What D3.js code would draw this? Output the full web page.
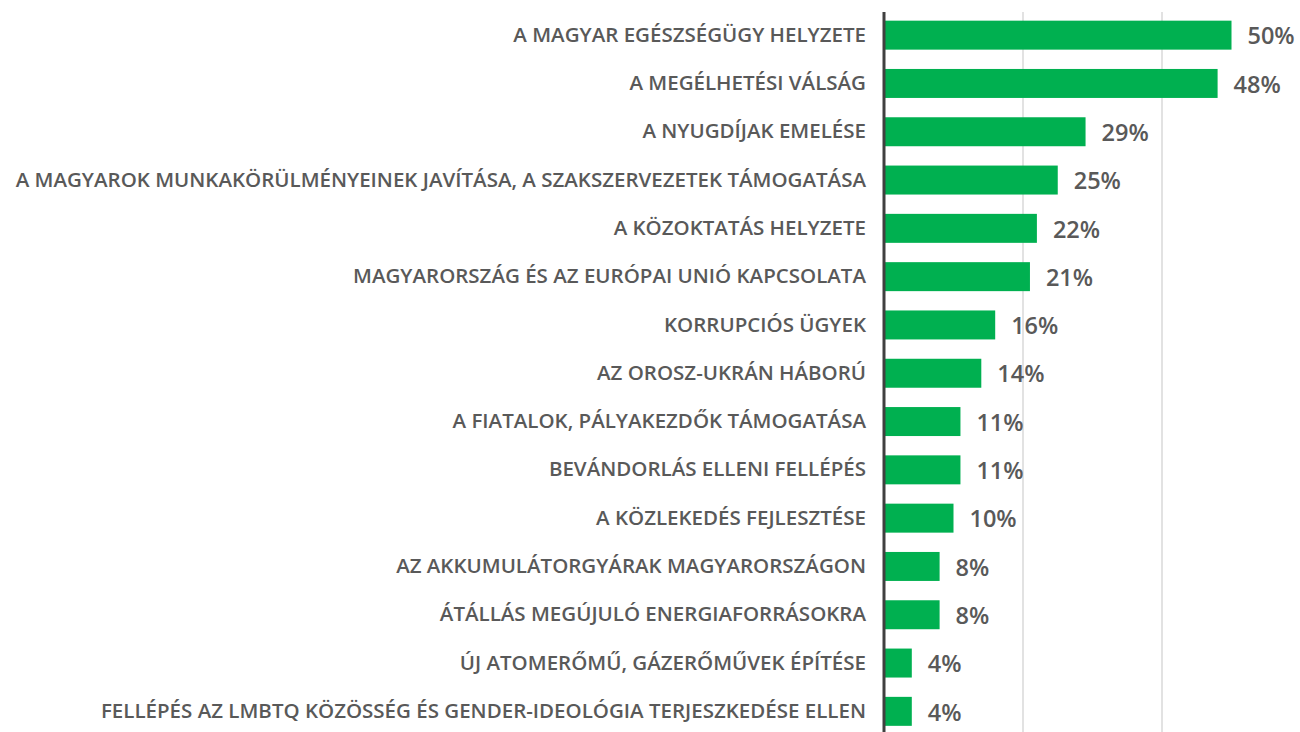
<!DOCTYPE html>
<html>
<head>
<meta charset="utf-8">
<script src="https://cdn.jsdelivr.net/npm/d3@7"></script>
<style>
  body { margin: 0; background: #fff; }
  text { font-family: "Open Sans", sans-serif; }
</style>
</head>
<body>
<svg id="chart"></svg>
<script>
// Topics and share of respondents (%)
const topics = [
  "A MAGYAR EGÉSZSÉGÜGY HELYZETE",
  "A MEGÉLHETÉSI VÁLSÁG",
  "A NYUGDÍJAK EMELÉSE",
  "A MAGYAROK MUNKAKÖRÜLMÉNYEINEK JAVÍTÁSA, A SZAKSZERVEZETEK TÁMOGATÁSA",
  "A KÖZOKTATÁS HELYZETE",
  "MAGYARORSZÁG ÉS AZ EURÓPAI UNIÓ KAPCSOLATA",
  "KORRUPCIÓS ÜGYEK",
  "AZ OROSZ-UKRÁN HÁBORÚ",
  "A FIATALOK, PÁLYAKEZDŐK TÁMOGATÁSA",
  "BEVÁNDORLÁS ELLENI FELLÉPÉS",
  "A KÖZLEKEDÉS FEJLESZTÉSE",
  "AZ AKKUMULÁTORGYÁRAK MAGYARORSZÁGON",
  "ÁTÁLLÁS MEGÚJULÓ ENERGIAFORRÁSOKRA",
  "ÚJ ATOMERŐMŰ, GÁZERŐMŰVEK ÉPÍTÉSE",
  "FELLÉPÉS AZ LMBTQ KÖZÖSSÉG ÉS GENDER-IDEOLÓGIA TERJESZKEDÉSE ELLEN"
];
const shares = [50, 48, 29, 25, 22, 21, 16, 14, 11, 11, 10, 8, 8, 4, 4];
const gridTicks = [20, 40];

const width = 1300, height = 732;
const margin = {top: 12, right: 0, bottom: 0, left: 884};

const svg = d3.select('#chart')
    .attr('width', width)
    .attr('height', height);

const data = topics.map((t, i) => ({topic: t, value: shares[i]}));

// x: 0% sits on the axis line, 20% steps are ~139px apart
const xScale = d3.scaleLinear()
    .domain([0, 60])
    .range([margin.left, margin.left + 417]);

const yScale = d3.scaleBand()
    .domain(topics)
    .range([11, 735.5])
    .paddingInner(0.4)
    .paddingOuter(0.2);

// gridlines
svg.append('g')
    .selectAll('line')
    .data(gridTicks)
    .join('line')
    .attr('x1', d => xScale(d))
    .attr('x2', d => xScale(d))
    .attr('y1', margin.top)
    .attr('y2', height)
    .attr('stroke', '#d9d9d9')
    .attr('stroke-width', 1.5);

// bars
svg.append('g')
    .selectAll('rect')
    .data(data)
    .join('rect')
    .attr('x', xScale(0))
    .attr('y', d => yScale(d.topic))
    .attr('width', d => xScale(d.value) - xScale(0))
    .attr('height', yScale.bandwidth())
    .attr('fill', '#00b050');

// value labels
svg.append('g')
    .selectAll('text')
    .data(data)
    .join('text')
    .attr('x', d => xScale(d.value) + 16)
    .attr('y', d => yScale(d.topic) + yScale.bandwidth() / 2 + 1)
    .attr('dy', '0.35em')
    .attr('fill', '#595959')
    .style('font-size', '23.5px')
    .style('font-weight', 600)
    .text(d => d.value + '%');

// category axis
const yAxis = d3.axisLeft(yScale).tickSize(0).tickPadding(18);
const yAxisG = svg.append('g')
    .attr('transform', `translate(${margin.left},0)`)
    .call(yAxis);
yAxisG.select('.domain').remove();
yAxisG.selectAll('text')
    .attr('fill', '#595959')
    .style('font-size', '20.5px')
    .style('font-weight', 600);

// vertical axis line
svg.append('line')
    .attr('x1', margin.left)
    .attr('x2', margin.left)
    .attr('y1', margin.top)
    .attr('y2', height)
    .attr('stroke', '#404040')
    .attr('stroke-width', 3);
</script>
</body>
</html>
